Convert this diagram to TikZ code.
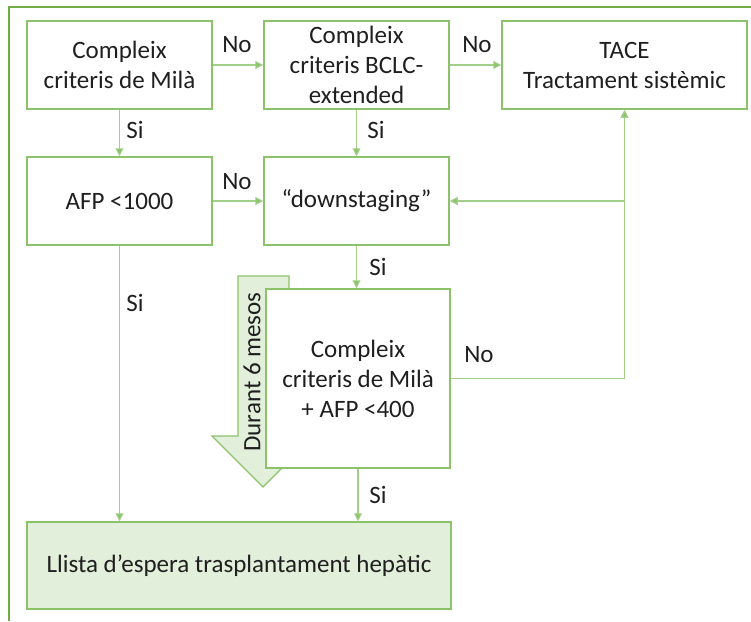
\documentclass[tikz,border=0pt]{standalone}
\usepackage{fontspec}
\setmainfont{Carlito}
\usetikzlibrary{arrows.meta}
\definecolor{framegreen}{HTML}{70AD47}
\definecolor{boxline}{HTML}{8CC26A}
\definecolor{linkgreen}{HTML}{A2D088}
\definecolor{softfill}{HTML}{E2EFDA}
\begin{document}
\begin{tikzpicture}[x=1pt,y=-1pt,
  every node/.style={font=\fontsize{25}{30}\selectfont, text=black!88},
  box/.style={draw=boxline, line width=1.5pt, fill=white, align=center, inner sep=0pt},
  link/.style={draw=linkgreen, line width=1.1pt, -{Triangle[length=8pt,width=8pt,fill=boxline]}},
  plain/.style={draw=linkgreen, line width=1.1pt},
  lbl/.style={inner sep=0pt}
]
\useasboundingbox (0,0) rectangle (751,621);
% outer frame (top and left edges)
\draw[framegreen, line width=2pt] (9,621) -- (9,7) -- (751,7);

% six-month block arrow behind the last check
\draw[boxline, line width=1.2pt, fill=softfill]
  (238,276) -- (289,276) -- (289,436) -- (314,436) -- (263,487) -- (212,436) -- (238,436) -- cycle;
\node[lbl, rotate=90] (dur) at (252,372) {Durant 6 mesos};

% decision boxes
\node[box, minimum width=185pt, minimum height=88pt] (mila) at (119.5,65) {Compleix\\criteris de Milà};
\node[box, minimum width=185pt, minimum height=88pt] (bclc) at (356.5,65) {Compleix\\criteris BCLC-\\extended};
\node[box, minimum width=245pt, minimum height=88pt] (tace) at (624.5,65) {TACE\\Tractament sistèmic};
\node[box, minimum width=185pt, minimum height=88pt] (afp) at (119.5,201) {AFP <1000};
\node[box, minimum width=185pt, minimum height=88pt] (down) at (356.5,201) {“downstaging”};
\node[box, minimum width=184pt, minimum height=179pt] (check) at (358,378.5) {Compleix\\criteris de Milà\\+ AFP <400};
\node[box, fill=softfill, minimum width=424pt, minimum height=87pt] (list) at (239,565.5) {Llista d’espera trasplantament hepàtic};

% connectors
\draw[link] (mila.east) -- (bclc.west);
\draw[link] (bclc.east) -- (tace.west);
\draw[link] (mila.south) -- (afp.north);
\draw[link] (bclc.south) -- (down.north);
\draw[link] (afp.east) -- (down.west);
\draw[link] (down.south) -- (down.south |- check.north);
\draw[link] (check.south) -- (check.south |- list.north);
\draw[link] (afp.south) -- (afp.south |- list.north);
\coordinate (turn) at (tace.south |- check.east);
\coordinate (branch) at (tace.south |- down.east);
\draw[link] (check.east) -- (turn) -- (tace.south);
\draw[link] (branch) -- (down.east);

% connector labels
\node[lbl] (n1) at (237,45) {No};
\node[lbl] (n2) at (477,45) {No};
\node[lbl] (s1) at (135,130) {Si};
\node[lbl] (s2) at (376,130) {Si};
\node[lbl] (n3) at (237,182) {No};
\node[lbl] (s3) at (378,267) {Si};
\node[lbl] (s4) at (135,303) {Si};
\node[lbl] (n4) at (479,355) {No};
\node[lbl] (s5) at (378,495) {Si};
\end{tikzpicture}
\end{document}
